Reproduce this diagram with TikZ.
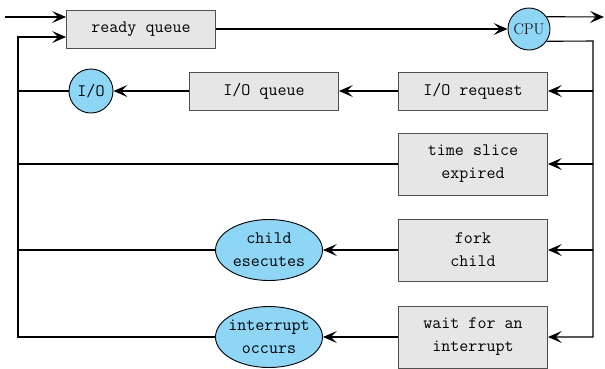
\documentclass[tikz,border=0pt]{standalone}
\usepackage{fontspec}
\usepackage{tikz}
\usetikzlibrary{arrows.meta,shapes.geometric}
\definecolor{boxgray}{RGB}{230,230,230}
\definecolor{edgegray}{RGB}{80,80,80}
\definecolor{cpublue}{RGB}{141,214,245}

\tikzset{
  qbox/.style={draw=edgegray,fill=boxgray,line width=0.9pt,minimum width=149pt,
    minimum height=38pt,inner sep=0pt,align=center,
    font=\ttfamily\fontsize{17.5}{23}\selectfont},
  tallbox/.style={qbox,minimum height=62pt},
  devc/.style={circle,draw,fill=cpublue,line width=0.9pt,inner sep=0pt,
    font=\ttfamily\fontsize{17.5}{23}\selectfont},
  evc/.style={ellipse,draw,fill=cpublue,line width=0.9pt,inner xsep=-5pt,
    inner ysep=1pt,minimum width=107pt,minimum height=61pt,align=center,
    font=\ttfamily\fontsize{17.5}{23}\selectfont},
  arr/.style={-{Stealth[length=14pt,width=12pt,inset=6pt]},line width=1.1pt},
  ln/.style={line width=1.1pt}
}

\begin{document}
\begin{tikzpicture}[x=1pt,y=-1pt]
\useasboundingbox (0,0) rectangle (605,368);

% Queues and events
\node[qbox] (ready) at (141,29) {ready queue};
\node[devc,minimum size=42pt,font=\rmfamily\fontsize{15.5}{18}\selectfont] (cpu) at (529,29) {CPU};
\node[qbox] (ioreq) at (473,91) {I/O request};
\node[qbox] (ioq) at (264,91) {I/O queue};
\node[devc,minimum size=44pt] (io) at (91,91) {I/O};
\node[tallbox] (slice) at (473,164) {time slice\\expired};
\node[tallbox] (fork) at (473,250) {fork\\child};
\node[evc] (child) at (269,250) {child\\esecutes};
\node[tallbox] (wait) at (473,337) {wait for an\\interrupt};
\node[evc] (intr) at (269,337) {interrupt\\occurs};

% Corners of the loops
\coordinate (in) at (5,17);
\coordinate (out) at (604,17);
\coordinate (lt) at (18,37);
\coordinate (lb) at (18,337);
\coordinate (rt) at (593,41);
\coordinate (rb) at (593,337);

% Top row
\draw[arr] (in) -- (in -| ready.west);
\draw[arr] (ready.east) -- (cpu.west);
\draw[arr] (cpu.35) -- (out);

% Right side
\draw[arr] (cpu.-35) -- (rt) -- (rb) -- (wait.east);
\draw[arr] (ioreq.east -| rt) -- (ioreq.east);
\draw[arr] (slice.east -| rt) -- (slice.east);
\draw[arr] (fork.east -| rt) -- (fork.east);

% Rows
\draw[arr] (ioreq.west) -- (ioq.east);
\draw[arr] (ioq.west) -- (io.east);
\draw[arr] (fork.west) -- (child.east);
\draw[arr] (wait.west) -- (intr.east);

% Left side back to ready queue
\draw[arr] (intr.west) -- (lb) -- (lt) -- (lt -| ready.west);
\draw[ln] (io.west) -- (io.west -| lt);
\draw[ln] (slice.west) -- (slice.west -| lt);
\draw[ln] (child.west) -- (child.west -| lt);
\end{tikzpicture}
\end{document}
